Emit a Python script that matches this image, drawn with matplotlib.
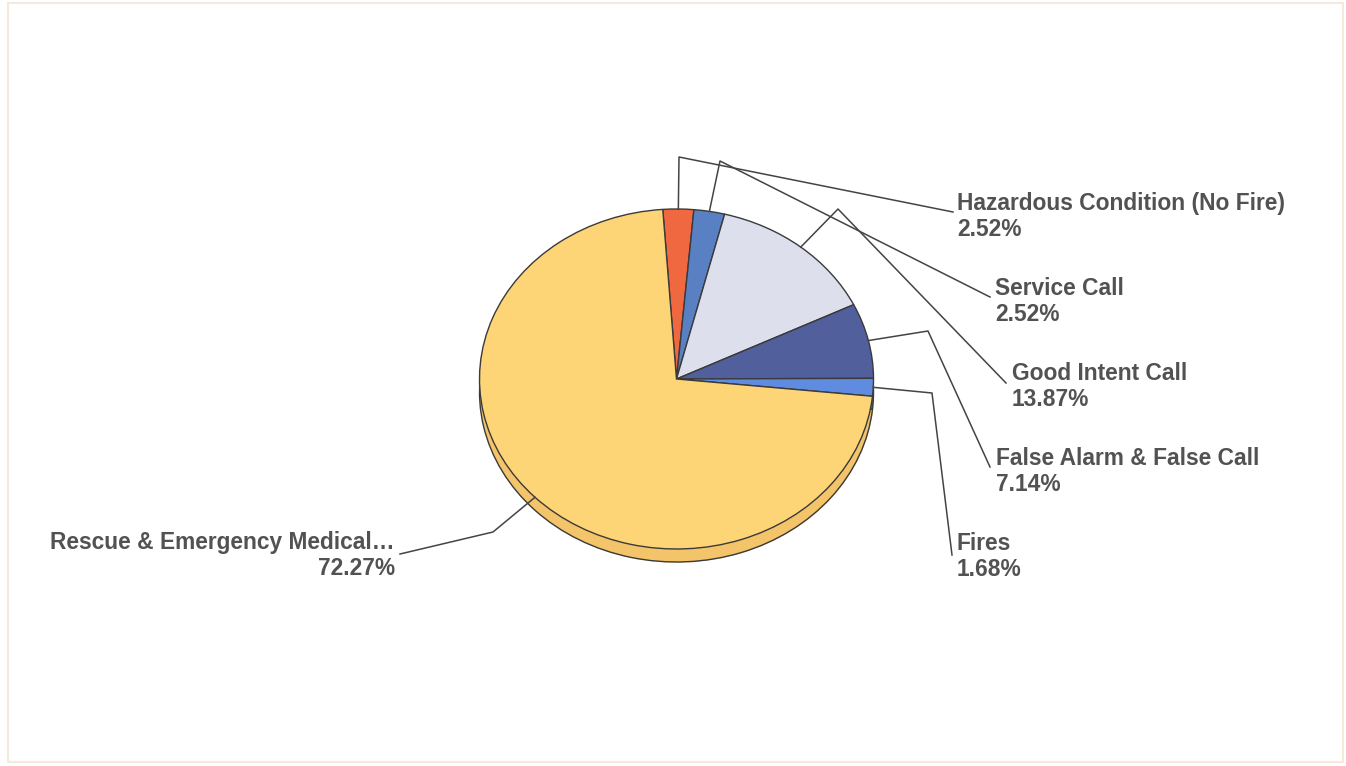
import numpy as np
import matplotlib
matplotlib.use("Agg")
from matplotlib import pyplot as plt

# slice data, clockwise from the top
labels = ["Hazardous Condition (No Fire)", "Service Call", "Good Intent Call",
          "False Alarm & False Call", "Fires", "Rescue & Emergency Medical\u2026"]
shares = [2.52, 2.52, 13.87, 7.14, 1.68, 72.27]
colors = ["#F0683F", "#5A80C4", "#DDE0EC", "#515F9C", "#5F8BE0", "#FDD576"]
side_colors = ["#D2552F", "#46679E", "#B8BBC8", "#3E4A7C", "#4A70B8", "#F4C46A"]

W, H = 1346, 766
fig = plt.figure(figsize=(W / 100, H / 100), dpi=100)

# pie face is an ellipse: rx ~197px, ry ~170px, with a ~13px side
cx, cy, rx, ry, depth = 676.5, 379, 197, 170, 13
d = depth / ry
left = (cx - rx) / W
bottom = (H - (cy + ry + depth)) / H
ax = fig.add_axes([left, bottom, 2 * rx / W, (2 * ry + depth) / H])

wedge_kw = dict(edgecolor="#3a3a3a", linewidth=1.0)
# side (drawn first, shifted down)
ax.pie(shares, colors=side_colors, startangle=94, counterclock=False,
       center=(0, -d), radius=1, wedgeprops=wedge_kw)
xs = np.linspace(-1, 1, 400)
ax.fill_between(xs, -np.sqrt(1 - xs ** 2) - d, 0, color=side_colors[-1], zorder=0.5, lw=0)
wedges, _ = ax.pie(shares, colors=colors, startangle=94, counterclock=False,
                   center=(0, 0), radius=1, wedgeprops=wedge_kw)
ax.set_aspect("auto")
ax.set_xlim(-1, 1)
ax.set_ylim(-1 - d, 1)
ax.axis("off")

# overlay in pixel coordinates for labels and leader lines
ov = fig.add_axes([0, 0, 1, 1])
ov.set_xlim(0, W)
ov.set_ylim(H, 0)
ov.axis("off")
ov.patch.set_alpha(0)

# faint page border
ov.plot([8, 1343, 1343, 8, 8], [3, 3, 762, 762, 3], color="#F3EADB", lw=1.5)

elbows = [(679, 157), (720, 161), (838, 209), (928, 331), (932, 393), (493, 532)]
ends = [(953, 212), (990, 297), (1006, 383), (990, 467), (952, 555), (400, 554)]
text_pos = [(957, 216.5), (995, 301.5), (1012, 386.5), (996, 471.5), (957, 556.5), (395, 555.5)]

fig.canvas.draw()
for i, w in enumerate(wedges):
    mid = np.deg2rad((w.theta1 + w.theta2) / 2)
    px, py = ax.transData.transform((np.cos(mid), np.sin(mid)))
    py = H - py
    ex, ey = elbows[i]
    tx, ty = ends[i]
    ov.plot([px, ex, tx], [py, ey, ty], color="#444444", lw=1.1)
    txt = "{}\n{:.2f}%".format(labels[i], shares[i])
    lx, ly = text_pos[i]
    ha = "right" if lx < cx else "left"
    ov.text(lx, ly, txt, ha=ha, va="center", multialignment=ha,
            fontsize=16.4, fontweight="bold", color="#525252",
            family="Liberation Sans", linespacing=1.2)

fig.savefig("out.png", dpi=100, facecolor="white")
